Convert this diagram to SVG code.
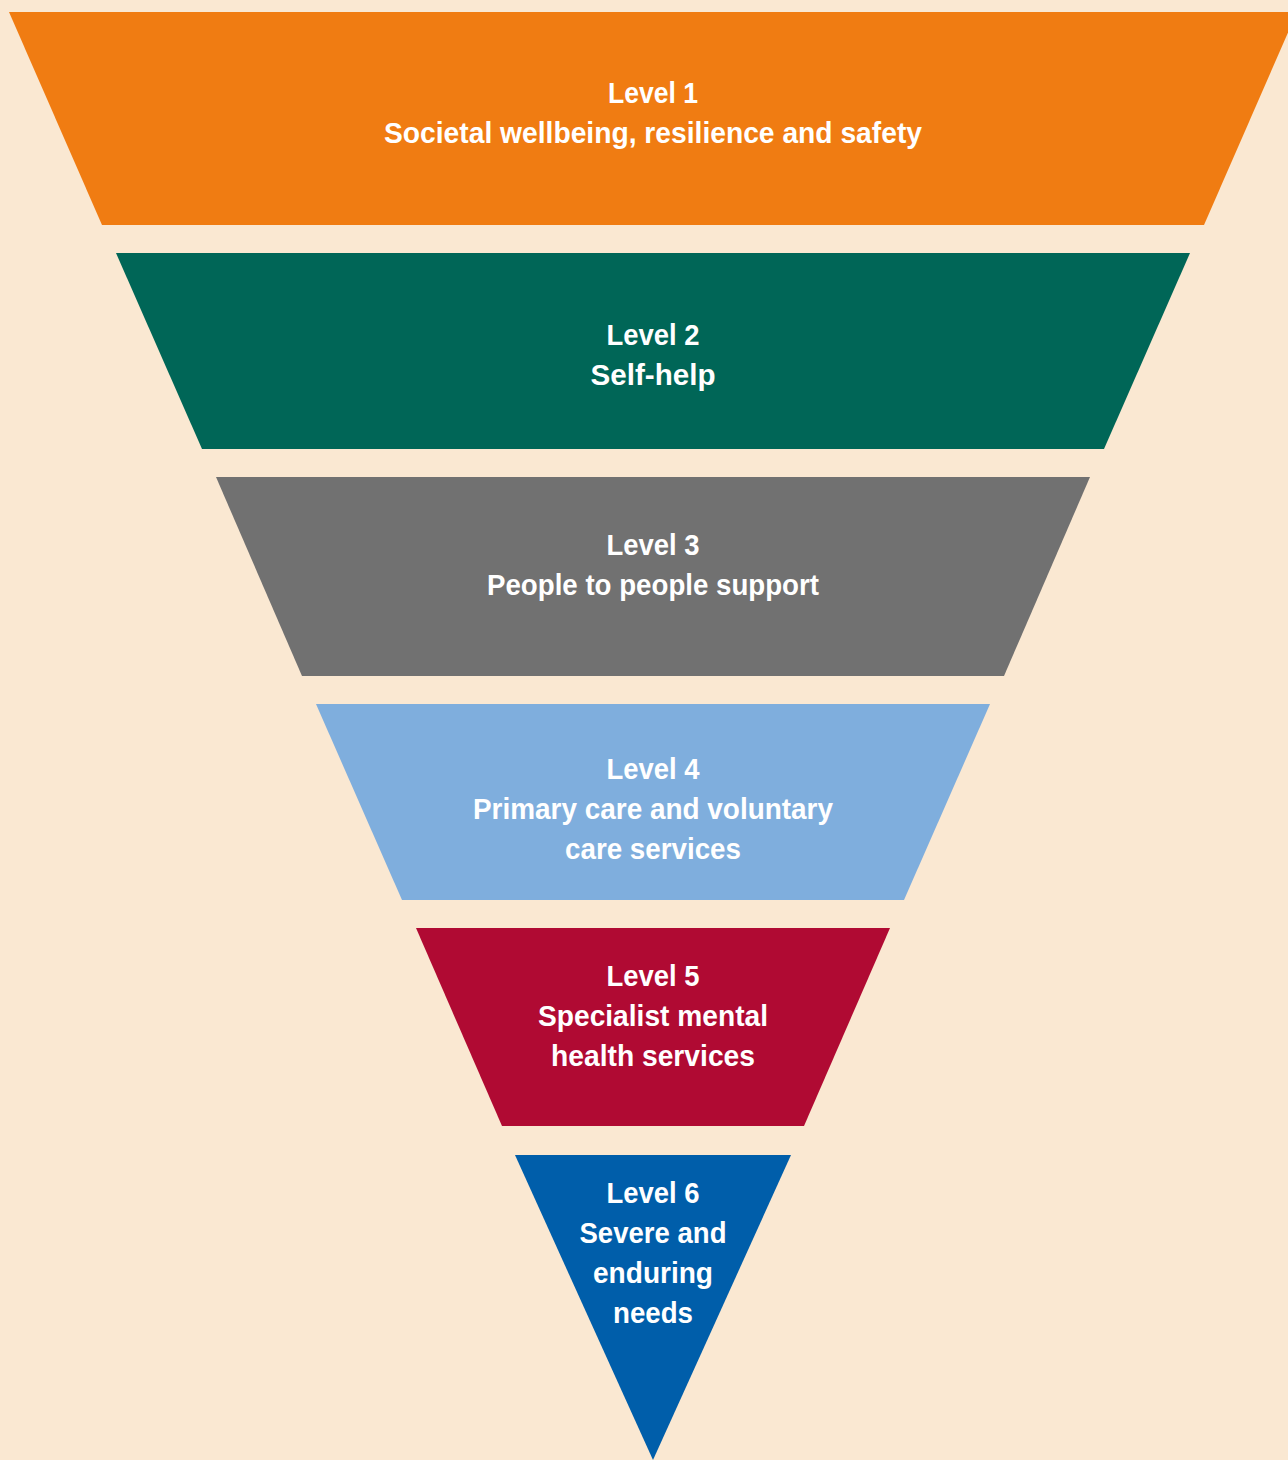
<svg xmlns="http://www.w3.org/2000/svg" width="1288" height="1460" viewBox="0 0 1288 1460">
<style>
.t{font-family:"Liberation Sans","Noto Sans",Arial,sans-serif;font-weight:bold;font-size:29px;fill:#FFFFFF;text-anchor:middle}
</style>
<rect x="0" y="0" width="1288" height="1460" fill="#FAE8D2"/>
<g id="level1">
<polygon points="9,12 1297,12 1204,225 102,225" fill="#F07C12"/>
<text class="t" x="653" y="103" textLength="90" lengthAdjust="spacingAndGlyphs">Level 1</text>
<text class="t" x="653" y="143" textLength="538" lengthAdjust="spacingAndGlyphs">Societal wellbeing, resilience and safety</text>
</g>
<g id="level2">
<polygon points="116,253 1190,253 1104,449 202,449" fill="#006657"/>
<text class="t" x="653" y="345" textLength="93" lengthAdjust="spacingAndGlyphs">Level 2</text>
<text class="t" x="653" y="385" textLength="125" lengthAdjust="spacingAndGlyphs">Self-help</text>
</g>
<g id="level3">
<polygon points="216,477 1090,477 1004,676 302,676" fill="#717171"/>
<text class="t" x="653" y="555" textLength="93" lengthAdjust="spacingAndGlyphs">Level 3</text>
<text class="t" x="653" y="595" textLength="332" lengthAdjust="spacingAndGlyphs">People to people support</text>
</g>
<g id="level4">
<polygon points="316,704 990,704 904,900 402,900" fill="#7FAEDD"/>
<text class="t" x="653" y="779" textLength="93" lengthAdjust="spacingAndGlyphs">Level 4</text>
<text class="t" x="653" y="819" textLength="360" lengthAdjust="spacingAndGlyphs">Primary care and voluntary</text>
<text class="t" x="653" y="859" textLength="176" lengthAdjust="spacingAndGlyphs">care services</text>
</g>
<g id="level5">
<polygon points="416,928 890,928 804,1126 502,1126" fill="#B00A33"/>
<text class="t" x="653" y="986" textLength="93" lengthAdjust="spacingAndGlyphs">Level 5</text>
<text class="t" x="653" y="1026" textLength="230" lengthAdjust="spacingAndGlyphs">Specialist mental</text>
<text class="t" x="653" y="1066" textLength="204" lengthAdjust="spacingAndGlyphs">health services</text>
</g>
<g id="level6">
<polygon points="515,1155 791,1155 653,1460" fill="#005EAA"/>
<text class="t" x="653" y="1203" textLength="93" lengthAdjust="spacingAndGlyphs">Level 6</text>
<text class="t" x="653" y="1243" textLength="147" lengthAdjust="spacingAndGlyphs">Severe and</text>
<text class="t" x="653" y="1283" textLength="120" lengthAdjust="spacingAndGlyphs">enduring</text>
<text class="t" x="653" y="1323" textLength="80" lengthAdjust="spacingAndGlyphs">needs</text>
</g>
<g id="connectors"></g>
</svg>
